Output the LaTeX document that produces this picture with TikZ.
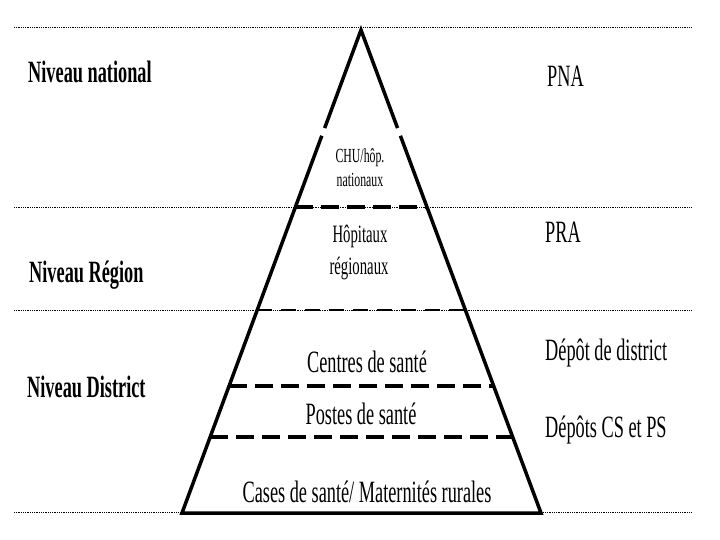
\documentclass[tikz,border=0pt]{standalone}
\usepackage{fontspec}
\setmainfont{Liberation Serif}[FakeStretch=0.59]
\usetikzlibrary{calc}

\begin{document}
\begin{tikzpicture}[x=1pt, y=-1pt,
	every node/.style={inner sep=0pt, font=\fontsize{31}{33}\selectfont},
	niveau/.style={anchor=base west, font=\fontsize{31}{33}\selectfont\bfseries},
	depot/.style={anchor=base west},
	etage/.style={anchor=base},
	petit/.style={anchor=base, font=\fontsize{#1}{#1}\selectfont},
	side/.style={line width=3.5pt},
	tier/.style={line width=3.5pt, dash pattern=on 18pt off 8pt},
	tierfin/.style={line width=2.5pt, dash pattern=on 15pt off 9pt},
	guide/.style={line width=1pt, dash pattern=on 1pt off 0.8pt}]
	\useasboundingbox (0,0) rectangle (720,540);
	% dotted level lines
	\foreach \y in {28,208,310,512}
		\draw[guide] (14,\y) -- (691,\y);
	% pyramid
	\coordinate (apex) at (361,30);
	\coordinate (bl) at (182,513);
	\coordinate (br) at (541,513);
	\draw[side] ($(apex)!0.203!(bl)$) -- (apex) -- ($(apex)!0.203!(br)$);
	\draw[side] ($(apex)!0.219!(bl)$) -- (bl) -- (br) -- ($(apex)!0.219!(br)$);
	\foreach \t in {0.366,0.737,0.843}
		\draw[tier] ($(apex)!\t!(bl)$) -- ($(apex)!\t!(br)$);
	\draw[tierfin] ($(apex)!0.580!(bl)$) -- ($(apex)!0.580!(br)$);
	% levels
	\node[niveau] (nat) at (28,83) {Niveau national};
	\node[niveau] (reg) at (29,282) {Niveau Région};
	\node[niveau] (dist) at (27,397) {Niveau District};
	% stores
	\node[depot] (pna) at (547,87) {PNA};
	\node[depot] (pra) at (545,243) {PRA};
	\node[depot] (ddist) at (545,360) {Dépôt de district};
	\node[depot] (dcsps) at (545,437) {Dépôts CS et PS};
	% facilities
	\node[petit=20] (chu) at (360,163) {CHU/hôp.};
	\node[petit=20] (chub) at (360,187) {nationaux};
	\node[petit=25] (hopreg) at (360,243) {Hôpitaux};
	\node[petit=25] (hopregb) at (359,274) {régionaux};
	\node[etage] (cs) at (367,372) {Centres de santé};
	\node[etage] (ps) at (361,424) {Postes de santé};
	\node[etage] (cases) at (367,502) {Cases de santé/ Maternités rurales};
\end{tikzpicture}
\end{document}
